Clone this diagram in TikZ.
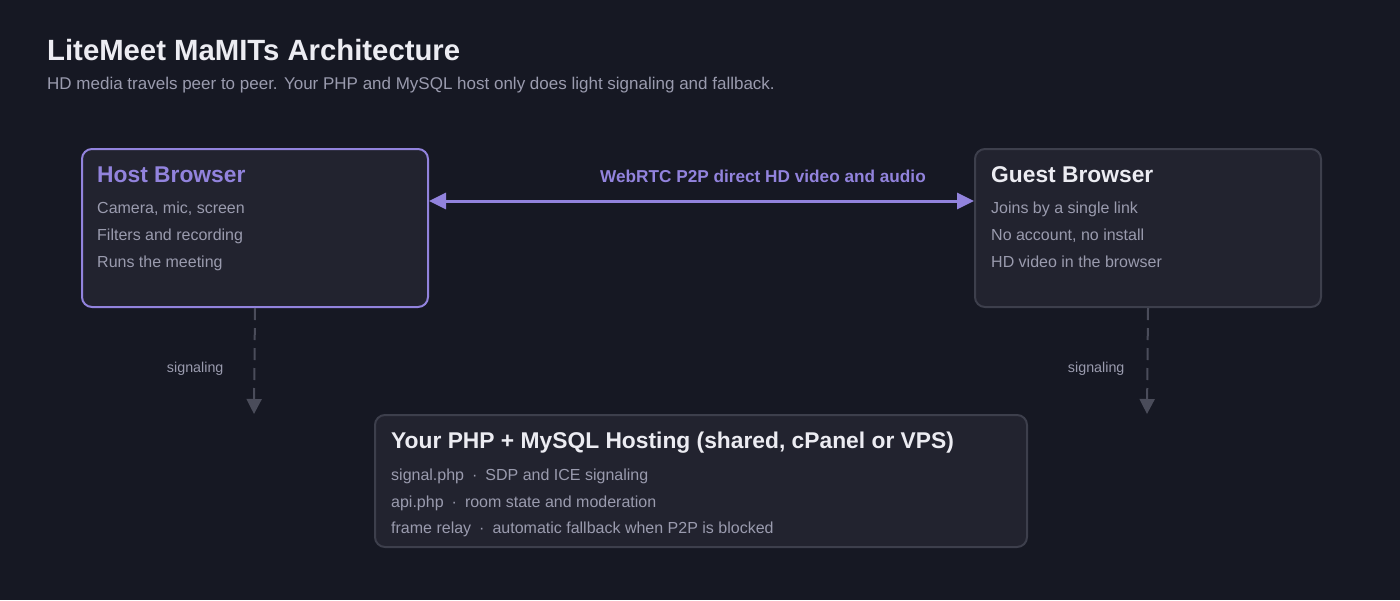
\documentclass[tikz,border=0pt]{standalone}
\usepackage{fontspec}
\setmainfont{Liberation Sans}
\usetikzlibrary{arrows.meta,positioning}
\definecolor{night}{HTML}{161823}
\definecolor{slab}{HTML}{22232F}
\definecolor{rim}{HTML}{3D3F4C}
\definecolor{violet}{HTML}{9283DD}
\definecolor{mute}{HTML}{9A9BAE}
\definecolor{snow}{HTML}{ECECF2}
\definecolor{dashgray}{HTML}{4A4C5A}
\newcommand{\px}[1]{\fontsize{#1}{#1}\selectfont}
\tikzset{panel/.style={draw=rim,line width=2pt,fill=slab,rounded corners=10pt,anchor=north west,inner sep=0pt},
 head/.style={font=\px{22.8}\bfseries,text=snow,anchor=base west,inner sep=0pt},
 item/.style={font=\px{16},text=mute,anchor=base west,inner sep=0pt},
 sig/.style={dashgray,line width=2pt,dash pattern=on 12pt off 8pt,-{Triangle[length=15pt,width=15pt]}},
 siglabel/.style={font=\px{14.3},text=mute,inner sep=0pt}}
\newcommand{\sep}{\hspace{8pt}{\color{mute}\textperiodcentered}\hspace{8pt}}
\begin{document}
\begin{tikzpicture}[x=1pt,y=-1pt]
\fill[night] (0,0) rectangle (1400,600);
\useasboundingbox (0,0) rectangle (1400,600);
% heading
\node[font=\px{29.3}\bfseries,text=snow,anchor=base west,inner sep=0pt] (title) at (47,60) {LiteMeet MaMITs Architecture};
\node[font=\px{17},text=mute,anchor=base west,inner sep=0pt] (subtitle) at (47,89) {HD media travels peer to peer. Your PHP and MySQL host only does light signaling and fallback.};
% browsers
\node[panel,draw=violet,minimum width=346pt,minimum height=158pt] (host) at (81,148) {};
\node[panel,minimum width=346pt,minimum height=158pt] (guest) at (974,148) {};
\node[head,text=violet] (hostT) at (97,182) {Host Browser};
\node[head] (guestT) at (991,182) {Guest Browser};
\foreach \t [count=\i] in {{Camera, mic, screen},{Filters and recording},{Runs the meeting}}
  \node[item] (hostL\i) at (97,186+27*\i) {\t};
\foreach \t [count=\i] in {{Joins by a single link},{No account, no install},{HD video in the browser}}
  \node[item] (guestL\i) at (991,186+27*\i) {\t};
% hosting
\node[panel,minimum width=652pt,minimum height=132pt] (server) at (374,414) {};
\node[head] (serverT) at (391,448) {Your PHP + MySQL Hosting (shared, cPanel or VPS)};
\node[item] (serverL1) at (391,480) {signal.php\sep SDP and ICE signaling};
\node[item] (serverL2) at (391,507) {api.php\sep room state and moderation};
\node[item] (serverL3) at (391,533) {frame relay\sep automatic fallback when P2P is blocked};
% p2p link
\draw[violet,line width=3pt,{Triangle[length=17pt,width=16pt]}-{Triangle[length=17pt,width=16pt]}] ([yshift=27pt]host.east) -- ([yshift=27pt]guest.west);
\node[font=\px{17.2}\bfseries,text=violet,inner sep=0pt] (p2p) at (763,176) {WebRTC P2P direct HD video and audio};
% signaling
\coordinate (hostS) at (254,414);
\coordinate (guestS) at (1147,414);
\draw[sig] (host.south) -- (hostS) node[siglabel,pos=.57,left=30pt] (hostSig) {signaling};
\draw[sig] (guest.south) -- (guestS) node[siglabel,pos=.57,left=22pt] (guestSig) {signaling};
\end{tikzpicture}
\end{document}
